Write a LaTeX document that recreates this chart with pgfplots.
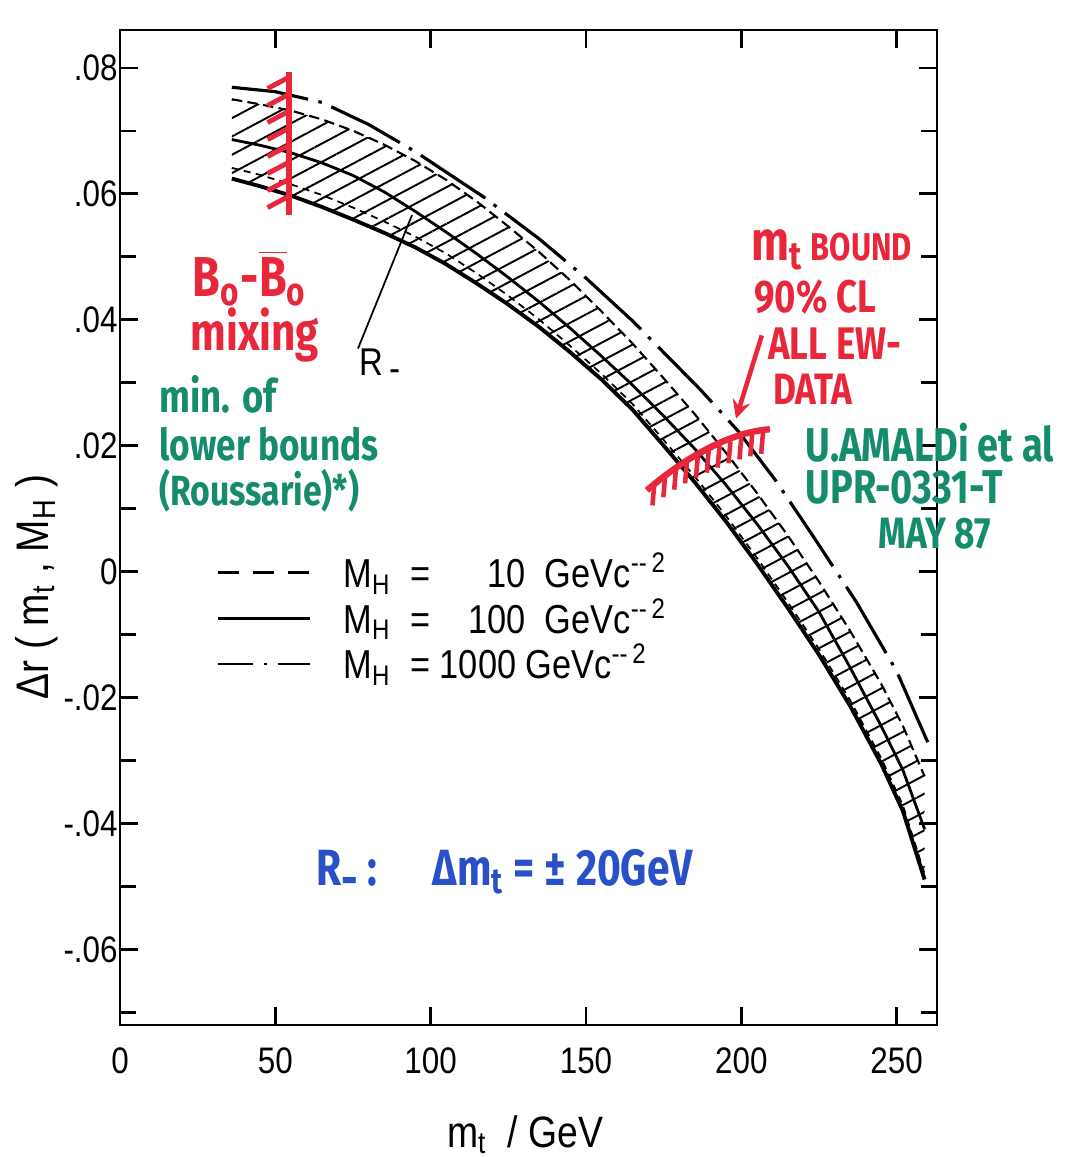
\documentclass[border=0pt]{standalone}
\usepackage{pgfplots}
\pgfplotsset{compat=1.18}
\usepackage{pgfplotstable}
\usepgfplotslibrary{fillbetween}
\usetikzlibrary{patterns.meta}
\usepackage{fontspec}
\setmainfont{Liberation Sans}
\newfontfamily\lab{Liberation Sans}[FakeStretch=0.85]
\newfontfamily\hand{Fira Sans}[FakeStretch=0.8]
\definecolor{hred}{RGB}{232,40,58}
\definecolor{hgreen}{RGB}{22,140,110}
\definecolor{hblue}{RGB}{40,80,200}

% band curves: L lowest solid, Ld lower dashed, M middle solid, U upper dashed
\pgfplotstableread{
x    L       Ld      M       U
36   0.0624  0.0641  0.0686  0.0750
45   0.0612  0.0630  0.0677  0.0742
55   0.0597  0.0615  0.0665  0.0732
65   0.0579  0.0598  0.0649  0.0718
75   0.0559  0.0578  0.0629  0.0700
85   0.0538  0.0556  0.0603  0.0678
95   0.0515  0.0532  0.0572  0.0652
105  0.0488  0.0505  0.0539  0.0622
115  0.0457  0.0473  0.0504  0.0587
125  0.0424  0.0438  0.0467  0.0548
135  0.0388  0.0400  0.0428  0.0507
145  0.0348  0.0358  0.0386  0.0462
155  0.0305  0.0314  0.0342  0.0413
165  0.0257  0.0266  0.0296  0.0362
175  0.0200  0.0209  0.0247  0.0307
185  0.0142  0.0151  0.0195  0.0250
195  0.0080  0.0089  0.0138  0.0189
205  0.0013  0.0022  0.0076  0.0125
215  -0.0058 -0.0049 0.0009  0.0057
225  -0.0132 -0.0123 -0.0064 -0.0016
235  -0.0213 -0.0204 -0.0152 -0.0094
245  -0.0305 -0.0296 -0.0245 -0.0178
252  -0.0380 -0.0371 -0.0315 -0.0245
259  -0.0489 -0.0480 -0.0409 -0.0325
}\band

% M_H = 1000 curve
\pgfplotstableread{
x    D
36   0.0769
50   0.0762
65   0.0745
80   0.0710
95   0.0667
117  0.0595
135  0.0528
150  0.0466
165  0.0398
175  0.0348
187  0.0288
199  0.0223
211  0.0145
223  0.0057
237  -0.0048
250  -0.0158
260  -0.0271
}\dcurve

\begin{document}
\begin{tikzpicture}
\begin{axis}[
  scale only axis, width=8.17cm, height=9.95cm,
  xmin=0, xmax=263, ymin=-0.072, ymax=0.086,
  axis line style={line width=0.8pt},
  xtick={0,50,100,150,200,250},
  xticklabels={0,50,100,150,200,250},
  ytick={-0.06,-0.04,-0.02,0,0.02,0.04,0.06,0.08},
  yticklabels={-.06,-.04,-.02,0,.02,.04,.06,.08},
  minor ytick={-0.07,-0.05,-0.03,-0.01,0.01,0.03,0.05,0.07},
  scaled y ticks=false, scaled x ticks=false,
  tick align=inside, major tick length=0.18cm, minor tick length=0.16cm,
  tick style={line width=0.7pt, black},
  ticklabel style={font=\lab\fontsize{10.5}{12}\selectfont},
  xticklabel style={yshift=-0.10cm},
  yticklabel style={xshift=0.10cm},
  xlabel={m\textsubscript{t} \ / GeV},
  ylabel={Δr ( m\textsubscript{t} , M\textsubscript{H} )},
  xlabel style={font=\lab\fontsize{12.5}{13}\selectfont, at={(axis description cs:0.496,-0.11)}, anchor=center},
  ylabel style={font=\lab\fontsize{13}{14}\selectfont, at={(axis description cs:-0.102,0.44)}, anchor=center},
  clip=false,
  legend cell align=left,
  legend style={draw=none, fill=none, at={(axis description cs:0.113,0.486)}, anchor=north west,
    font=\lab\fontsize{11.5}{13}\selectfont, row sep=-2.5pt, inner sep=1pt},
  legend image code/.code={\draw[#1] (0cm,0cm) -- (0.92cm,0cm); \path (1.17cm,0cm);},
]
% hatched band
\addplot[name path=U, forget plot, black, line width=0.6pt, dash pattern=on 3pt off 1.5pt] table[x=x,y=U]{\band};
\addplot[name path=L, forget plot, black, line width=1.1pt] table[x=x,y=L]{\band};
\addplot[forget plot, pattern={Lines[angle=28,distance=4.6pt,line width=0.55pt]}, draw=none] fill between[of=U and L];
\addplot[forget plot, black, line width=0.8pt] table[x=x,y=M]{\band};
\addplot[forget plot, black, line width=0.5pt, dash pattern=on 2pt off 1.5pt] table[x=x,y=Ld]{\band};
% M_H = 1000
\addplot[forget plot, black, line width=0.9pt, dash pattern=on 22pt off 3pt on 1pt off 3pt] table[x=x,y=D]{\dcurve};

% legend
\addlegendimage{black, line width=0.8pt, dash pattern=on 6pt off 4pt}
\addlegendentry{M\textsubscript{H} \ = \ \phantom{00}10 \ GeVc\textsuperscript{--\,2}}
\addlegendimage{black, line width=0.8pt}
\addlegendentry{M\textsubscript{H} \ = \ \phantom{0}100 \ GeVc\textsuperscript{--\,2}}
\addlegendimage{black, line width=0.8pt, dash pattern=on 10pt off 3pt on 1pt off 3pt}
\addlegendentry{M\textsubscript{H} \ = 1000 GeVc\textsuperscript{--\,2}}

% R_ pointer
\draw[black, line width=0.5pt] (axis cs:76.6,0.0354) -- (axis cs:94,0.0566);
\node[font=\lab\fontsize{11}{12}\selectfont, anchor=west] at (axis cs:73,0.0327) {R\raisebox{-0.3ex}{\,-}};

% B0 mixing bound
\draw[hred, line width=1.6pt] (axis cs:54.4,0.0794) -- (axis cs:54.4,0.0566);
\draw[hred, line width=1.4pt] (axis cs:47.5,0.0767) -- (axis cs:54.4,0.0785);
\draw[hred, line width=1.4pt] (axis cs:47.5,0.0740) -- (axis cs:54.4,0.0758);
\draw[hred, line width=1.4pt] (axis cs:47.5,0.0713) -- (axis cs:54.4,0.0731);
\draw[hred, line width=1.4pt] (axis cs:47.5,0.0686) -- (axis cs:54.4,0.0704);
\draw[hred, line width=1.4pt] (axis cs:47.5,0.0659) -- (axis cs:54.4,0.0677);
\draw[hred, line width=1.4pt] (axis cs:47.5,0.0632) -- (axis cs:54.4,0.0650);
\draw[hred, line width=1.4pt] (axis cs:47.5,0.0605) -- (axis cs:54.4,0.0623);
\draw[hred, line width=1.4pt] (axis cs:47.5,0.0578) -- (axis cs:54.4,0.0596);
\node[hred, inner sep=0pt, font=\hand\bfseries\fontsize{16}{18}\selectfont] at (axis cs:41.8,0.0466)
  {B\textsubscript{o}-$\overline{\mbox{B}}$\textsubscript{o}};
\node[hred, inner sep=0pt, font=\hand\bfseries\fontsize{15}{17}\selectfont] at (axis cs:43.4,0.0375) {mixing};

% green left block
\node[hgreen, inner sep=0pt, font=\hand\bfseries\fontsize{13}{15}\selectfont, anchor=west] at (axis cs:12.5,0.0282) {min. of};
\node[hgreen, inner sep=0pt, font=\hand\bfseries\fontsize{12.5}{15}\selectfont, anchor=west] at (axis cs:12.5,0.0203) {lower bounds};
\node[hgreen, inner sep=0pt, font=\hand\bfseries\fontsize{12}{15}\selectfont, anchor=west] at (axis cs:12.5,0.0129) {(Roussarie)*)};

% m_t bound
\node[hred, inner sep=0pt, font=\hand\bfseries\fontsize{11}{13}\selectfont, anchor=west] at (axis cs:203.0,0.0511)
  {{\fontsize{16}{18}\selectfont m\textsubscript{t}} BOUND};
\node[hred, inner sep=0pt, font=\hand\bfseries\fontsize{13}{15}\selectfont, anchor=west] at (axis cs:204.0,0.0436) {90\% CL};
\node[hred, inner sep=0pt, font=\hand\bfseries\fontsize{13}{15}\selectfont, anchor=west] at (axis cs:208.5,0.0362) {ALL EW-};
\node[hred, inner sep=0pt, font=\hand\bfseries\fontsize{12.5}{15}\selectfont, anchor=west] at (axis cs:210.0,0.0290) {DATA};
\draw[hred, line width=1.3pt, -stealth] (axis cs:206.6,0.0375) -- (axis cs:198.3,0.0243);
\draw[hred, line width=1.8pt] (axis cs:169.6,0.0129) .. controls (axis cs:184,0.0190) and (axis cs:198,0.0222) .. (axis cs:209.2,0.0226);
\draw[hred, line width=1.3pt] (axis cs:172,0.0140) -- (axis cs:171.4,0.0105);
\draw[hred, line width=1.3pt] (axis cs:175.5,0.0153) -- (axis cs:174.9,0.0118);
\draw[hred, line width=1.3pt] (axis cs:179,0.0165) -- (axis cs:178.4,0.0130);
\draw[hred, line width=1.3pt] (axis cs:182.5,0.0175) -- (axis cs:181.9,0.0140);
\draw[hred, line width=1.3pt] (axis cs:186,0.0184) -- (axis cs:185.4,0.0149);
\draw[hred, line width=1.3pt] (axis cs:189.5,0.0192) -- (axis cs:188.9,0.0157);
\draw[hred, line width=1.3pt] (axis cs:193,0.0200) -- (axis cs:192.4,0.0165);
\draw[hred, line width=1.3pt] (axis cs:196.5,0.0207) -- (axis cs:195.9,0.0172);
\draw[hred, line width=1.3pt] (axis cs:200,0.0213) -- (axis cs:199.4,0.0178);
\draw[hred, line width=1.3pt] (axis cs:203.5,0.0218) -- (axis cs:202.9,0.0183);
\draw[hred, line width=1.3pt] (axis cs:207,0.0222) -- (axis cs:206.4,0.0187);

% green right block
\node[hgreen, inner sep=0pt, font=\hand\bfseries\fontsize{13.5}{14}\selectfont, anchor=west] at (axis cs:220.5,0.0205) {U.AMALDi et al};
\node[hgreen, inner sep=0pt, font=\hand\bfseries\fontsize{13.5}{14}\selectfont, anchor=west] at (axis cs:220.5,0.0134) {UPR-0331-T};
\node[hgreen, inner sep=0pt, font=\hand\bfseries\fontsize{12.5}{14}\selectfont, anchor=west] at (axis cs:244.0,0.0060) {MAY 87};

% blue note
\node[hblue, inner sep=0pt, font=\hand\bfseries\fontsize{14.5}{17}\selectfont, anchor=west] at (axis cs:63.0,-0.0479)
  {R\raisebox{-0.4ex}{-} :\hspace{0.55cm}Δm\textsubscript{t} = ± 20GeV};
\end{axis}
\pgfresetboundingbox
\path[use as bounding box] (-1.20,-1.32) rectangle (9.54,10.25);
\end{tikzpicture}
\end{document}
